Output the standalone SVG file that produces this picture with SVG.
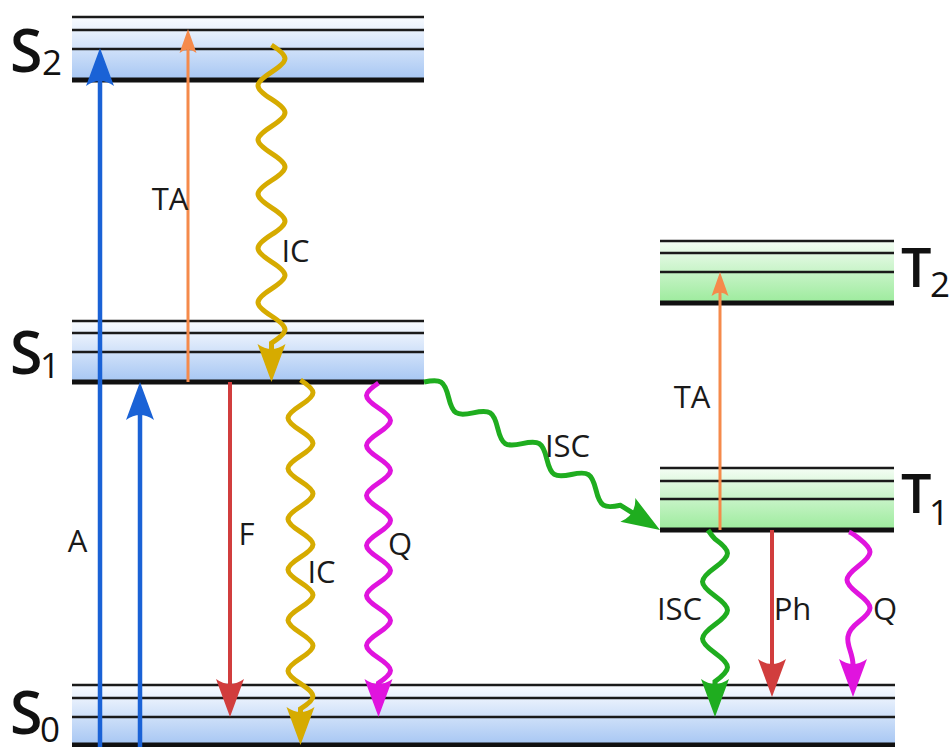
<svg xmlns="http://www.w3.org/2000/svg" width="949" height="747" viewBox="0 0 949 747">
<style>
.thin{stroke:#1a1a1a;stroke-width:2.5;fill:none}
.thick{stroke:#111;stroke-width:5;fill:none}
.lbl{font-family:"Open Sans","Liberation Sans",sans-serif;font-size:31px;fill:#1a1a1a;text-anchor:middle}
.big{font-family:"Open Sans","Liberation Sans",sans-serif;font-size:59px;font-weight:600;fill:#111}
.bigT{font-family:"Open Sans","Liberation Sans",sans-serif;font-size:54px;font-weight:600;fill:#111}
.sub{font-size:35px;font-weight:400}
.w{fill:none;stroke-width:5}
</style>
<defs>
<linearGradient id="gBlue" x1="0" y1="0" x2="0" y2="1">
<stop offset="0" stop-color="#f8fbff"/><stop offset="0.25" stop-color="#e6effc"/><stop offset="1" stop-color="#a6c6f3"/>
</linearGradient>
<linearGradient id="gGreen" x1="0" y1="0" x2="0" y2="1">
<stop offset="0" stop-color="#f4fdf4"/><stop offset="0.25" stop-color="#ddf8dd"/><stop offset="1" stop-color="#9ceb9c"/>
</linearGradient>
<marker id="mBlue" viewBox="0 -15 40 30" markerWidth="40" markerHeight="30" refX="6" refY="0" orient="auto" markerUnits="userSpaceOnUse"><path d="M38,0 L0,-14 Q10,0 0,14 Z" fill="#1a62d6"/></marker>
<marker id="mYellow" viewBox="0 -15 40 30" markerWidth="40" markerHeight="30" refX="6" refY="0" orient="auto" markerUnits="userSpaceOnUse"><path d="M38,0 L0,-14 Q10,0 0,14 Z" fill="#d6ab00"/></marker>
<marker id="mRed" viewBox="0 -15 40 30" markerWidth="40" markerHeight="30" refX="6" refY="0" orient="auto" markerUnits="userSpaceOnUse"><path d="M38,0 L0,-14 Q10,0 0,14 Z" fill="#d13d3d"/></marker>
<marker id="mMag" viewBox="0 -15 40 30" markerWidth="40" markerHeight="30" refX="6" refY="0" orient="auto" markerUnits="userSpaceOnUse"><path d="M38,0 L0,-14 Q10,0 0,14 Z" fill="#e014de"/></marker>
<marker id="mGreen" viewBox="0 -15 40 30" markerWidth="40" markerHeight="30" refX="6" refY="0" orient="auto" markerUnits="userSpaceOnUse"><path d="M38,0 L0,-14 Q10,0 0,14 Z" fill="#1fad1f"/></marker>
<marker id="mOrange" viewBox="0 -10 26 20" markerWidth="26" markerHeight="20" refX="4" refY="0" orient="auto" markerUnits="userSpaceOnUse"><path d="M24,0 L0,-8.5 Q7,0 0,8.5 Z" fill="#f58a4b"/></marker>
</defs>
<rect width="949" height="747" fill="#fff"/>

<g id="S2">
<rect x="72" y="17" width="352" height="63" fill="url(#gBlue)"/>
<path class="thin" d="M72,17H424M72,30H424M72,49H424"/>
<path class="thick" d="M72,80H424"/>
<text class="big" x="10" y="72">S<tspan class="sub" x="42" y="75">2</tspan></text>
</g>
<g id="S1">
<rect x="72" y="321" width="352" height="61" fill="url(#gBlue)"/>
<path class="thin" d="M72,321H424M72,333H424M72,352H424"/>
<path class="thick" d="M72,382H424"/>
<text class="big" x="10" y="374">S<tspan class="sub" x="40" y="378">1</tspan></text>
</g>
<g id="S0">
<rect x="72" y="685" width="823" height="60" fill="url(#gBlue)"/>
<path class="thin" d="M72,685H895M72,698H895M72,717H895"/>
<path class="thick" d="M72,745H895"/>
<text class="big" x="10" y="734">S<tspan class="sub" x="40" y="742">0</tspan></text>
</g>
<g id="T2">
<rect x="660" y="241" width="234" height="62" fill="url(#gGreen)"/>
<path class="thin" d="M660,241H894M660,253H894M660,272H894"/>
<path class="thick" d="M660,303H894"/>
<text class="bigT" x="901" y="287">T<tspan class="sub" x="930" y="297">2</tspan></text>
</g>
<g id="T1">
<rect x="660" y="468" width="234" height="62" fill="url(#gGreen)"/>
<path class="thin" d="M660,468H894M660,481H894M660,499H894"/>
<path class="thick" d="M660,530H894"/>
<text class="bigT" x="901" y="513">T<tspan class="sub" x="929" y="525">1</tspan></text>
</g>

<g id="connectors">
<path d="M100,747V80" stroke="#1a62d6" stroke-width="4.5" fill="none" marker-end="url(#mBlue)"/>
<path d="M140,747V414" stroke="#1a62d6" stroke-width="4.5" fill="none" marker-end="url(#mBlue)"/>
<path d="M188,382V49" stroke="#f58a4b" stroke-width="3" fill="none" marker-end="url(#mOrange)"/>
<path d="M720,530V292" stroke="#f58a4b" stroke-width="3" fill="none" marker-end="url(#mOrange)"/>
<path d="M230,382V685" stroke="#d13d3d" stroke-width="4" fill="none" marker-end="url(#mRed)"/>
<path d="M772,530V665" stroke="#d13d3d" stroke-width="4" fill="none" marker-end="url(#mRed)"/>
<path class="w" stroke="#d6ab00" marker-end="url(#mYellow)" d="M271.5,45 c18,11.49 18,15.61 0,27.1 c-18,11.49 -18,15.61 0,27.1 c18,11.49 18,15.61 0,27.1 c-18,11.49 -18,15.61 0,27.1 c18,11.49 18,15.61 0,27.1 c-18,11.49 -18,15.61 0,27.1 c18,11.49 18,15.61 0,27.1 c-18,11.49 -18,15.61 0,27.1 c18,11.49 18,15.61 0,27.1 c-18,11.49 -18,15.61 0,27.1 c18,11.49 18,15.61 0,27.1 L271.5,350"/>
<path class="w" stroke="#d6ab00" marker-end="url(#mYellow)" d="M300.5,380 c16.67,10.73 16.67,14.57 0,25.3 c-16.67,10.73 -16.67,14.57 0,25.3 c16.67,10.73 16.67,14.57 0,25.3 c-16.67,10.73 -16.67,14.57 0,25.3 c16.67,10.73 16.67,14.57 0,25.3 c-16.67,10.73 -16.67,14.57 0,25.3 c16.67,10.73 16.67,14.57 0,25.3 c-16.67,10.73 -16.67,14.57 0,25.3 c16.67,10.73 16.67,14.57 0,25.3 c-16.67,10.73 -16.67,14.57 0,25.3 c16.67,10.73 16.67,14.57 0,25.3 c-16.67,10.73 -16.67,14.57 0,25.3 c16.67,10.73 16.67,14.57 0,25.3 L300.5,713"/>
<path class="w" stroke="#e014de" marker-end="url(#mMag)" d="M378.5,383 c-16,10.6 -16,14.4 0,25 c16,10.6 16,14.4 0,25 c-16,10.6 -16,14.4 0,25 c16,10.6 16,14.4 0,25 c-16,10.6 -16,14.4 0,25 c16,10.6 16,14.4 0,25 c-16,10.6 -16,14.4 0,25 c16,10.6 16,14.4 0,25 c-16,10.6 -16,14.4 0,25 c16,10.6 16,14.4 0,25 c-16,10.6 -16,14.4 0,25 c16,10.6 16,14.4 0,25 L378.5,685"/>
<path class="w" stroke="#1fad1f" marker-end="url(#mGreen)" transform="translate(424,382) rotate(32.1)" d="M0,0 c12.3,-12 16.7,-12 29,0 c12.3,12 16.7,12 29,0 c12.3,-12 16.7,-12 29,0 c12.3,12 16.7,12 29,0 c12.3,-12 16.7,-12 29,0 c12.3,12 16.7,12 29,0 c12.3,-12 16.7,-12 29,0 c12.3,12 16.7,12 29,0 L246.6,0"/>
<path class="w" stroke="#1fad1f" marker-end="url(#mGreen)" d="M708,530 C710,533 712,536 715,539 c16.67,12.08 16.67,16.42 0,28.5 c-16.67,12.08 -16.67,16.42 0,28.5 c16.67,12.08 16.67,16.42 0,28.5 c-16.67,12.08 -16.67,16.42 0,28.5 c16.67,12.08 16.67,16.42 0,28.5 L715,685"/>
<path class="w" stroke="#e014de" marker-end="url(#mMag)" d="M849,532 C852,533 854.5,535 858.5,538 c15.33,11.87 15.33,16.13 0,28 c-15.33,11.87 -15.33,16.13 0,28 c15.33,11.87 15.33,16.13 0,28 C838,638 853,648 853,665"/>
</g>

<g id="labels">
<text class="lbl" x="77.5" y="552">A</text>
<text class="lbl" x="170" y="210">TA</text>
<text class="lbl" x="295.5" y="262">IC</text>
<text class="lbl" x="246.5" y="545">F</text>
<text class="lbl" x="321.5" y="583">IC</text>
<text class="lbl" x="400" y="555">Q</text>
<text class="lbl" x="567.5" y="457">ISC</text>
<text class="lbl" x="692" y="408">TA</text>
<text class="lbl" x="679.5" y="620">ISC</text>
<text class="lbl" x="792.5" y="620">Ph</text>
<text class="lbl" x="885" y="620">Q</text>
</g>
</svg>
